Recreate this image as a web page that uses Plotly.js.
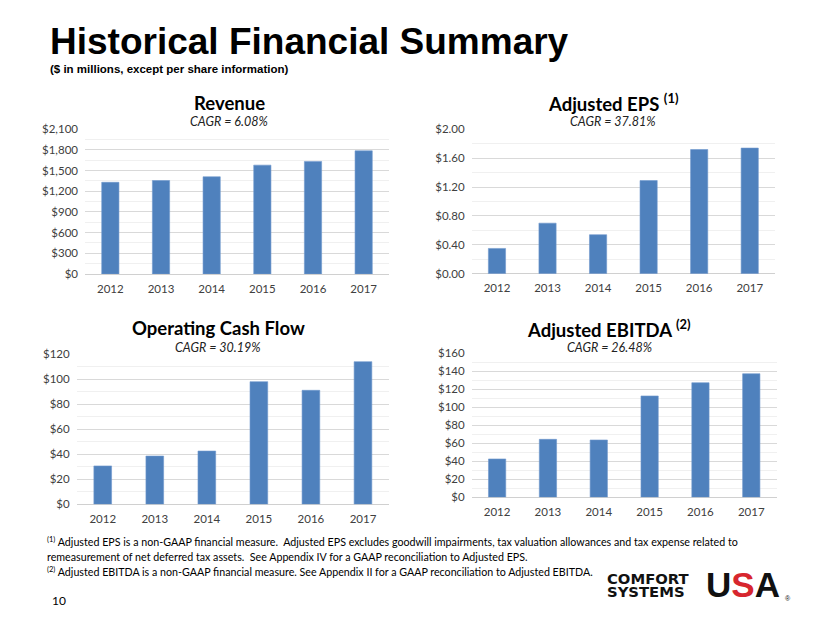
<!DOCTYPE html>
<html><head><meta charset="utf-8">
<script src="https://cdn.plot.ly/plotly-3.0.1.min.js"></script>
<style>html,body{margin:0;padding:0;background:#fff}#chart{width:830px;height:623px}</style>
</head><body><div id="chart"></div>
<script>
var years = ['2012','2013','2014','2015','2016','2017'];
var revenue = [1331, 1357, 1411, 1580, 1634, 1788];
var eps = [0.35, 0.70, 0.54, 1.29, 1.72, 1.74];
var cashFlow = [30.7, 38.6, 42.6, 98.1, 91.2, 114.1];
var ebitda = [42.6, 64.4, 63.7, 112.6, 127.3, 137.3];
var revTicks = [0,300,600,900,1200,1500,1800,2100];
var revTickText = ['$0','$300','$600','$900','$1,200','$1,500','$1,800','$2,100'];
var epsTicks = [0,0.4,0.8,1.2,1.6,2.0];
var epsTickText = ['$0.00','$0.40','$0.80','$1.20','$1.60','$2.00'];
var cfTicks = [0,20,40,60,80,100,120];
var cfTickText = ['$0','$20','$40','$60','$80','$100','$120'];
var ebTicks = [0,20,40,60,80,100,120,140,160];
var ebTickText = ['$0','$20','$40','$60','$80','$100','$120','$140','$160'];

var W = 830, H = 623;
function xd(a,b){return [a/W, b/W];}
function yd(top,bot){return [1-bot/H, 1-top/H];}
var barColor = '#4f81bd';
var tickFont = {family:'Lato, "Open Sans", sans-serif', size:11.5, color:'#404040'};

function bar(y, xa, ya){
  return {type:'bar', x:years, y:y, xaxis:xa, yaxis:ya, width:0.34,
    marker:{color:barColor, line:{color:'#6f97cc', width:0.6}}, hoverinfo:'none', showlegend:false};
}
var data = [bar(revenue,'x','y'), bar(eps,'x2','y2'), bar(cashFlow,'x3','y3'), bar(ebitda,'x4','y4')];

function xaxis(dom, anchor){
  return {domain:dom, anchor:anchor, type:'category', showgrid:false, zeroline:false,
    showline:false, ticks:'', tickfont:tickFont, fixedrange:true, ticklabelstandoff:6};
}
function yaxis(dom, anchor, range, vals, text, minor){
  return {domain:dom, anchor:anchor, range:range, tickvals:vals, ticktext:text,
    showgrid:true, gridcolor:'#d9d9d9', gridwidth:1, zeroline:true, zerolinecolor:'#d0d0d0', zerolinewidth:1,
    showline:false, ticks:'', tickfont:tickFont, fixedrange:true, ticklabelstandoff:6,
    minor:{dtick:minor, tick0:0, showgrid:true, gridcolor:'#f0f0f0', gridwidth:1, ticks:''}};
}

var layout = {
  width:W, height:H, margin:{l:0,r:0,t:0,b:0}, paper_bgcolor:'#fff', plot_bgcolor:'rgba(0,0,0,0)',
  showlegend:false, bargap:0.66,
  xaxis: xaxis(xd(85,389), 'y'),
  yaxis: yaxis(yd(129.3,274), 'x', [0,2100], revTicks, revTickText, 150),
  xaxis2: xaxis(xd(471.7,775), 'y2'),
  yaxis2: yaxis(yd(129.3,273.7), 'x2', [0,2], epsTicks, epsTickText, 0.2),
  xaxis3: xaxis(xd(76.7,389), 'y3'),
  yaxis3: yaxis(yd(354.3,504.3), 'x3', [0,120], cfTicks, cfTickText, 10),
  xaxis4: xaxis(xd(471.7,776.7), 'y4'),
  yaxis4: yaxis(yd(353.3,497.3), 'x4', [0,160], ebTicks, ebTickText, 10),
  annotations: []
};

function ann(text, x, y, font, xanchor){
  layout.annotations.push({text:text, x:x/W, y:1-y/H, xref:'paper', yref:'paper',
    showarrow:false, xanchor:xanchor||'center', yanchor:'middle', font:font, align:'left'});
}
var hdr = {family:'"Liberation Sans", Arial, sans-serif', color:'#000'};
ann('<b>Historical Financial Summary</b>', 48, 42, Object.assign({size:37}, hdr), 'left');
ann('<b>($ in millions, except per share information)</b>', 48, 69, Object.assign({size:11.5}, hdr), 'left');

var cTitle = {family:'Lato, "Open Sans", sans-serif', size:18.5, color:'#000'};
var cagr = {family:'Lato, "Open Sans", sans-serif', size:12.5, color:'#222'};
ann('<b>Revenue</b>', 229, 103, cTitle);
ann('<i>CAGR = 6.08%</i>', 229, 122, cagr);
ann('<b>Adjusted EPS <sup>(1)</sup></b>', 613, 102, cTitle);
ann('<i>CAGR = 37.81%</i>', 613, 122, cagr);
ann('<b>Operating Cash Flow</b>', 218, 328, cTitle);
ann('<i>CAGR = 30.19%</i>', 218, 347, cagr);
ann('<b>Adjusted EBITDA <sup>(2)</sup></b>', 609, 328, cTitle);
ann('<i>CAGR = 26.48%</i>', 609, 347, cagr);

var foot = {family:'Lato, "Open Sans", sans-serif', size:10.7, color:'#000'};
ann('<sup>(1)</sup> Adjusted EPS is a non-GAAP financial measure.  Adjusted EPS excludes goodwill impairments, tax valuation allowances and tax expense related to', 45, 541, foot, 'left');
ann('remeasurement of net deferred tax assets.  See Appendix IV for a GAAP reconciliation to Adjusted EPS.', 45, 556, foot, 'left');
ann('<sup>(2)</sup> Adjusted EBITDA is a non-GAAP financial measure. See Appendix II for a GAAP reconciliation to Adjusted EBITDA.', 45, 571, foot, 'left');
ann('10', 50, 600, {family:'Lato, sans-serif', size:12, color:'#000'}, 'left');

var logo = {family:'"DejaVu Sans", "Liberation Sans", sans-serif', size:14.8, color:'#111'};
ann('<b>COMFORT</b>', 605, 578, logo, 'left');
ann('<b>SYSTEMS</b>', 605, 591, logo, 'left');
ann('<b>U<span style="color:#d7262e">S</span>A</b>', 704, 584, {family:'"Liberation Sans", Arial, sans-serif', size:35, color:'#111'}, 'left');
ann('®', 783, 598, {family:'Arial, sans-serif', size:7, color:'#111'}, 'left');

Plotly.newPlot('chart', data, layout, {staticPlot:true, displayModeBar:false});
</script></body></html>
